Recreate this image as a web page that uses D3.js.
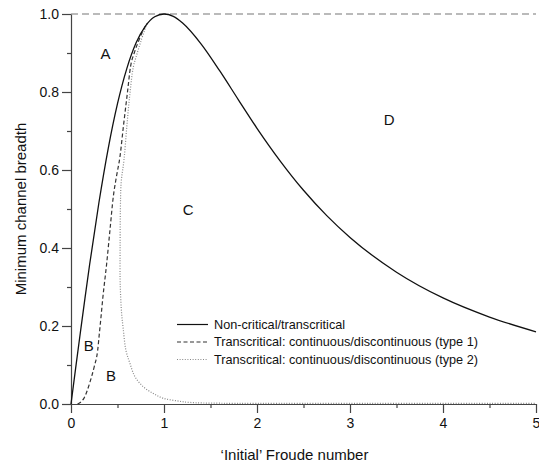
<!DOCTYPE html>
<html>
<head>
<meta charset="utf-8">
<script src="https://cdn.jsdelivr.net/npm/d3@7/dist/d3.min.js"></script>
<style>
  html, body { margin: 0; padding: 0; background: #fff; }
  text { font-family: "Liberation Sans", Arial, sans-serif; fill: #111; }
</style>
</head>
<body>
<svg id="chart" width="539" height="468"></svg>
<script>
// ---- Data ----
const xTicks = [0, 1, 2, 3, 4, 5];
const xMinorTicks = [0.5, 1.5, 2.5, 3.5, 4.5];
const yTicks = [0, 0.2, 0.4, 0.6, 0.8, 1.0];
const yMinorTicks = [0.1, 0.3, 0.5, 0.7, 0.9];

// Non-critical/transcritical (solid)
const solidFroude = [0, 0.05, 0.1, 0.15, 0.2, 0.3, 0.4, 0.5, 0.6, 0.7, 0.8, 0.9, 1.0, 1.1, 1.2, 1.4, 1.6, 1.8, 2.0, 2.25, 2.5, 2.75, 3.0, 3.5, 4.0, 4.5, 5.0];
const solidBreadth = [0, 0.092, 0.182, 0.271, 0.357, 0.516, 0.655, 0.770, 0.860, 0.926, 0.969, 0.993, 1.0, 0.994, 0.977, 0.923, 0.854, 0.780, 0.707, 0.623, 0.548, 0.483, 0.427, 0.338, 0.272, 0.223, 0.185];

// Transcritical type 1 (dashed)
const type1Froude = [0.07, 0.10, 0.14, 0.20, 0.25, 0.287, 0.305, 0.323, 0.34, 0.384, 0.419, 0.455, 0.49, 0.527, 0.563, 0.606, 0.64, 0.68, 0.724, 0.77, 0.815];
const type1Breadth = [0, 0.004, 0.015, 0.053, 0.096, 0.138, 0.181, 0.224, 0.267, 0.361, 0.446, 0.532, 0.585, 0.635, 0.711, 0.797, 0.865, 0.90, 0.929, 0.955, 0.975];

// Transcritical type 2 (dotted), ordered along the curve
const type2Froude = [0.815, 0.75, 0.70, 0.67, 0.634, 0.60, 0.57, 0.54, 0.531, 0.528, 0.528, 0.534, 0.545, 0.563, 0.59, 0.634, 0.688, 0.778, 0.885, 0.99, 1.14, 1.28, 1.6, 2.5, 5.0];
const type2Breadth = [0.975, 0.929, 0.89, 0.864, 0.797, 0.711, 0.626, 0.57, 0.50, 0.40, 0.32, 0.275, 0.23, 0.19, 0.138, 0.104, 0.07, 0.044, 0.027, 0.015, 0.008, 0.004, 0.002, 0.0015, 0.0015];

const legendLabels = ["Non-critical/transcritical", "Transcritical: continuous/discontinuous (type 1)", "Transcritical: continuous/discontinuous (type 2)"];
const regionLabels = ["A", "B", "B", "C", "D"];
const regionFroude = [0.37, 0.19, 0.43, 1.26, 3.42];
const regionBreadth = [0.90, 0.15, 0.074, 0.50, 0.73];

// ---- Chart ----
const svg = d3.select("#chart");
const x = d3.scaleLinear().domain([0, 5]).range([71, 536]);
const y = d3.scaleLinear().domain([0, 1]).range([404, 14]);
const axisColor = "#444";

// reference line at 1.0
svg.append("line")
  .attr("x1", x(0)).attr("x2", x(5))
  .attr("y1", y(1)).attr("y2", y(1))
  .attr("stroke", "#777").attr("stroke-width", 1.2)
  .attr("stroke-dasharray", "7,4");

// axes
function styleAxis(g) {
  g.selectAll("path.domain").attr("stroke", axisColor).attr("stroke-width", 1.2);
  g.selectAll(".tick line").attr("stroke", axisColor).attr("stroke-width", 1.2);
  g.selectAll(".tick text").attr("font-family", "Liberation Sans, Arial, sans-serif").attr("font-size", 14).attr("fill", "#111");
}
const xAxisG = svg.append("g").attr("transform", `translate(0,${y(0)})`)
  .call(d3.axisBottom(x).tickValues(xTicks).tickFormat(d3.format("d")).tickSize(9).tickSizeOuter(0).tickPadding(5));
styleAxis(xAxisG);
const xMinorG = svg.append("g").attr("transform", `translate(0,${y(0)})`)
  .call(d3.axisBottom(x).tickValues(xMinorTicks).tickFormat("").tickSize(4).tickSizeOuter(0));
styleAxis(xMinorG);
xMinorG.select("path.domain").remove();

const yAxisG = svg.append("g").attr("transform", `translate(${x(0)},0)`)
  .call(d3.axisLeft(y).tickValues(yTicks).tickFormat(d3.format(".1f")).tickSize(9).tickSizeOuter(0).tickPadding(3));
styleAxis(yAxisG);
const yMinorG = svg.append("g").attr("transform", `translate(${x(0)},0)`)
  .call(d3.axisLeft(y).tickValues(yMinorTicks).tickFormat("").tickSize(4).tickSizeOuter(0));
styleAxis(yMinorG);
yMinorG.select("path.domain").remove();

// axis titles
svg.append("text").attr("x", (x(0) + x(5)) / 2 - 9).attr("y", 460)
  .attr("text-anchor", "middle").attr("font-size", 15).text("\u2018Initial\u2019 Froude number");
svg.append("text").attr("transform", `translate(26,${y(0.5)}) rotate(-90)`)
  .attr("text-anchor", "middle").attr("font-size", 15).text("Minimum channel breadth");

// curves
const solidData = solidFroude.map((f, i) => [f, solidBreadth[i]]);
const type1Data = type1Froude.map((f, i) => [f, type1Breadth[i]]);
const type2Data = type2Froude.map((f, i) => [f, type2Breadth[i]]);

const lineMono = d3.line().x(d => x(d[0])).y(d => y(d[1])).curve(d3.curveMonotoneX);
const lineCR = d3.line().x(d => x(d[0])).y(d => y(d[1])).curve(d3.curveCatmullRom.alpha(0.5));

svg.append("path").datum(type2Data).attr("d", lineCR)
  .attr("fill", "none").attr("stroke", "#888").attr("stroke-width", 1.2).attr("stroke-dasharray", "1,1.6");
svg.append("path").datum(type1Data).attr("d", lineMono)
  .attr("fill", "none").attr("stroke", "#333").attr("stroke-width", 1.2).attr("stroke-dasharray", "4,2.5");
svg.append("path").datum(solidData).attr("d", lineMono)
  .attr("fill", "none").attr("stroke", "#111").attr("stroke-width", 1.3);

// region labels
svg.selectAll("text.region").data(regionLabels).enter().append("text")
  .attr("class", "region")
  .attr("x", (d, i) => x(regionFroude[i])).attr("y", (d, i) => y(regionBreadth[i]))
  .attr("text-anchor", "middle").attr("dominant-baseline", "central")
  .attr("font-size", 15).text(d => d);

// legend
const legendStyles = [
  { stroke: "#111", dash: null },
  { stroke: "#333", dash: "4,2.5" },
  { stroke: "#888", dash: "1,1.6" }
];
const legend = svg.append("g");
legendLabels.forEach((lab, i) => {
  const ly = 324.5 + i * 17.5;
  const ln = legend.append("line").attr("x1", 177).attr("x2", 208).attr("y1", ly).attr("y2", ly)
    .attr("stroke", legendStyles[i].stroke).attr("stroke-width", 1.2);
  if (legendStyles[i].dash) ln.attr("stroke-dasharray", legendStyles[i].dash);
  legend.append("text").attr("x", 214).attr("y", ly).attr("dominant-baseline", "central")
    .attr("font-size", 12.7).text(lab);
});
</script>
</body>
</html>
